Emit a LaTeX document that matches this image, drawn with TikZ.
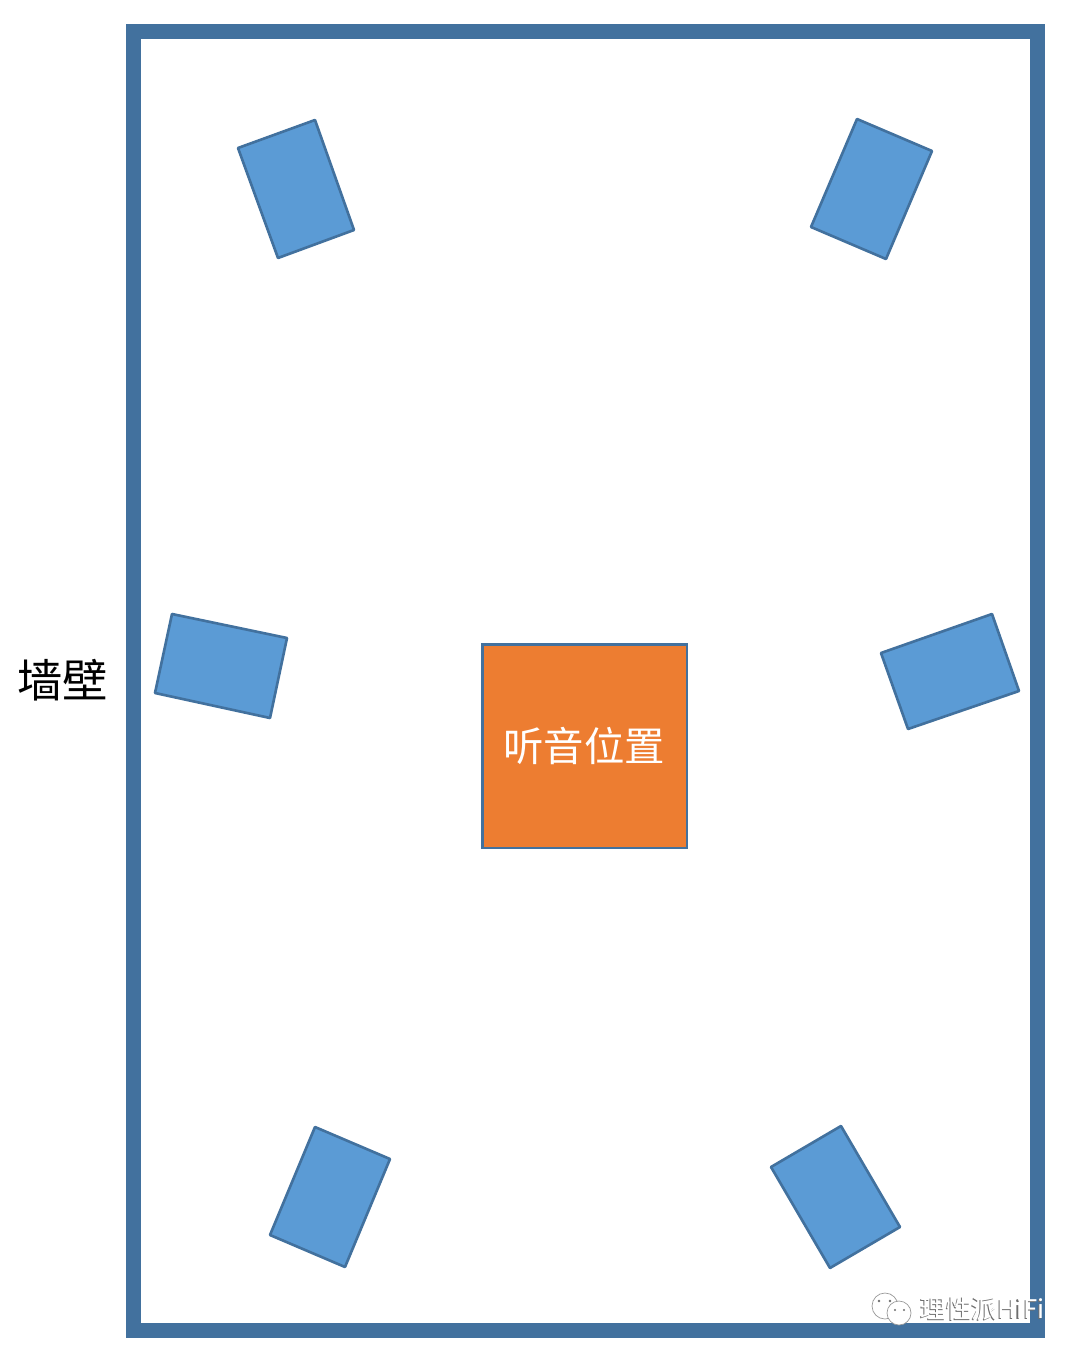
\documentclass[tikz,border=0pt]{standalone}
\usepackage{fontspec}
\setmainfont{Liberation Sans}
\newfontfamily\cjk{Noto Sans CJK SC}
\definecolor{wallblue}{RGB}{66,113,158}
\definecolor{speakerblue}{RGB}{91,155,213}
\definecolor{seatorange}{RGB}{237,125,49}
\definecolor{markgray}{RGB}{110,110,110}
\tikzset{
    speaker/.style={draw=wallblue,fill=speakerblue,line width=1.5pt,line join=bevel},
    bubble/.style={draw=markgray!70,fill=white,line width=.4pt},
    marktext/.style={inner sep=0pt,anchor=west,font=\cjk\fontsize{14.6}{15}\selectfont}
}
\begin{document}
\begin{tikzpicture}[x=.02cm,y=-.02cm]
    \useasboundingbox (0,0) rectangle (1078,1356);
    % Wall
    \draw[wallblue,line width=8.5pt] (133.5,31.5) rectangle (1037.5,1330.5);
    \node[inner sep=0pt,font=\cjk\fontsize{25.8}{27}\selectfont] (wall) at (63,680) {墙壁};
    % Speakers
    \foreach \a/\b/\c/\d/\e/\f/\g/\h in {
        238/148/315/120/354/230/278/258,
        857/119/932/151/886/259/811/227,
        172/614/287/638/270/718/155/693,
        881/653/992/614/1019/691/908/729,
        315/1127/390/1159/345/1267/270/1235,
        841/1126/900/1227/830/1268/771/1167}
        \draw[speaker] (\a,\b) -- (\c,\d) -- (\e,\f) -- (\g,\h) -- cycle;
    % Listening position
    \draw[draw=wallblue,fill=seatorange,line width=1.5pt] (482.5,644.5) rectangle (687,848);
    \node[inner sep=0pt,text=white,font=\cjk\fontsize{23}{24}\selectfont] (seat) at (584,746) {听音位置};
    % Watermark
    \begin{scope}
        \draw[bubble] (885,1306) circle (13);
        \draw[bubble] (899,1313) circle (12);
        \fill[markgray] (879,1301) circle (1.3) (890,1301) circle (1.3)
            (895,1310) circle (1.2) (904,1310) circle (1.2);
    \end{scope}
    \node[marktext,text=markgray] (markshadow) at (919,1310) {理性派HiFi};
    \node[marktext,text=white] (mark) at (920.2,1309.2) {理性派HiFi};
\end{tikzpicture}
\end{document}
